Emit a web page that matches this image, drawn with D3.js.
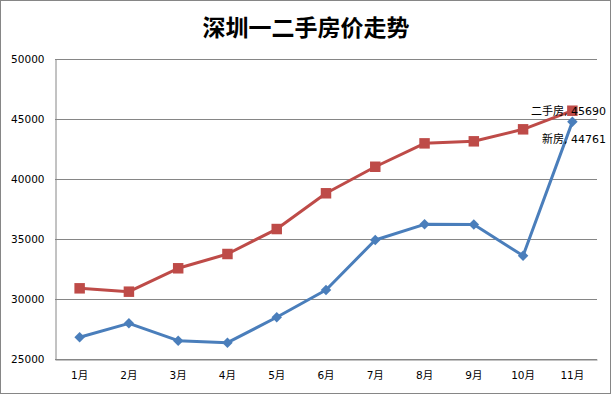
<!DOCTYPE html>
<html>
<head>
<meta charset="utf-8">
<script src="https://cdn.jsdelivr.net/npm/d3@7"></script>
<style>
  body { margin: 0; background: #fff; }
  svg text { font-family: "DejaVu Sans", "Noto Sans CJK SC", sans-serif; fill: #000; }
</style>
</head>
<body>
<svg id="chart"></svg>
<script>
(function (d3) {
    'use strict';

    var months = ['1月', '2月', '3月', '4月', '5月', '6月', '7月', '8月', '9月', '10月', '11月'];
    var secondHand = [30890, 30610, 32560, 33750, 35830, 38810, 41020, 42970, 43140, 44140, 45690];
    var newHomes = [26810, 27970, 26530, 26360, 28480, 30750, 34920, 36220, 36200, 33610, 44761];
    var yTicks = [25000, 30000, 35000, 40000, 45000, 50000];
    var title = '深圳一二手房价走势';

    var width = 612, height = 395;
    var margin = { top: 59, right: 15, bottom: 36, left: 55 };

    var svg = d3.select('#chart')
        .attr('width', width)
        .attr('height', height);

    // outer frame
    svg.append('rect')
        .attr('x', 0.5).attr('y', 0.5)
        .attr('width', width - 2).attr('height', height - 2)
        .attr('fill', '#fff')
        .attr('stroke', '#868686');

    var x = d3.scaleBand().domain(months).range([margin.left, width - margin.right]),
        y = d3.scaleLinear().domain([25000, 50000]).range([height - margin.bottom, margin.top]);

    svg.append('text')
        .attr('x', width / 2)
        .attr('y', 36)
        .attr('text-anchor', 'middle')
        .style('font-family', '"Noto Sans CJK SC", sans-serif')
        .style('font-size', '23px')
        .style('font-weight', '600')
        .text(title);

    // grid lines
    svg.append('g')
        .selectAll('line')
        .data(yTicks)
        .enter()
        .append('line')
        .attr('x1', margin.left)
        .attr('x2', width - margin.right)
        .attr('y1', function (d) { return Math.round(y(d)) + 0.5; })
        .attr('y2', function (d) { return Math.round(y(d)) + 0.5; })
        .attr('stroke', '#868686');

    // y axis
    var yAxis = svg.append('g')
        .attr('transform', 'translate(' + (margin.left + 0.5) + ',0)')
        .call(d3.axisLeft(y).tickValues(yTicks).tickSize(0).tickPadding(11).tickFormat(d3.format('d')));
    yAxis.select('.domain').attr('stroke', '#868686');
    yAxis.selectAll('text').style('font-size', '10.5px');

    // x axis
    var xAxis = svg.append('g')
        .attr('transform', 'translate(0,' + (Math.round(y(25000)) + 0.5) + ')')
        .call(d3.axisBottom(x).tickSize(0).tickPadding(12));
    xAxis.select('.domain').attr('stroke', '#868686');
    xAxis.selectAll('text').style('font-size', '10.5px');

    var cx = function (d, i) { return x(months[i]) + x.bandwidth() / 2; };
    var line = d3.line().x(cx).y(function (d) { return y(d); });

    // diamond = square turned 45 degrees
    var series = [
        { name: '二手房', values: secondHand, color: '#BE4B48', size: 110, rot: 0 },
        { name: '新房', values: newHomes, color: '#4A7EBB', size: 55, rot: 45 }
    ];

    series.forEach(function (s) {
        svg.append('path')
            .datum(s.values)
            .attr('fill', 'none')
            .attr('stroke', s.color)
            .attr('stroke-width', 3)
            .attr('stroke-linejoin', 'round')
            .attr('d', line);

        svg.append('g')
            .selectAll('path')
            .data(s.values)
            .enter()
            .append('path')
            .attr('d', d3.symbol().type(d3.symbolSquare).size(s.size))
            .attr('transform', function (d, i) {
                return 'translate(' + cx(d, i) + ',' + y(d) + ') rotate(' + s.rot + ')';
            })
            .attr('fill', s.color);
    });

    // data labels on the last point
    var last = months.length - 1;
    svg.append('text')
        .attr('x', 606)
        .attr('y', y(secondHand[last]) + 4)
        .attr('text-anchor', 'end')
        .style('font-size', '11px')
        .text(series[0].name + ', ' + secondHand[last]);

    svg.append('text')
        .attr('x', 606)
        .attr('y', y(newHomes[last]) + 21)
        .attr('text-anchor', 'end')
        .style('font-size', '11px')
        .text(series[1].name + ', ' + newHomes[last]);
})(window.d3);
</script>
</body>
</html>
